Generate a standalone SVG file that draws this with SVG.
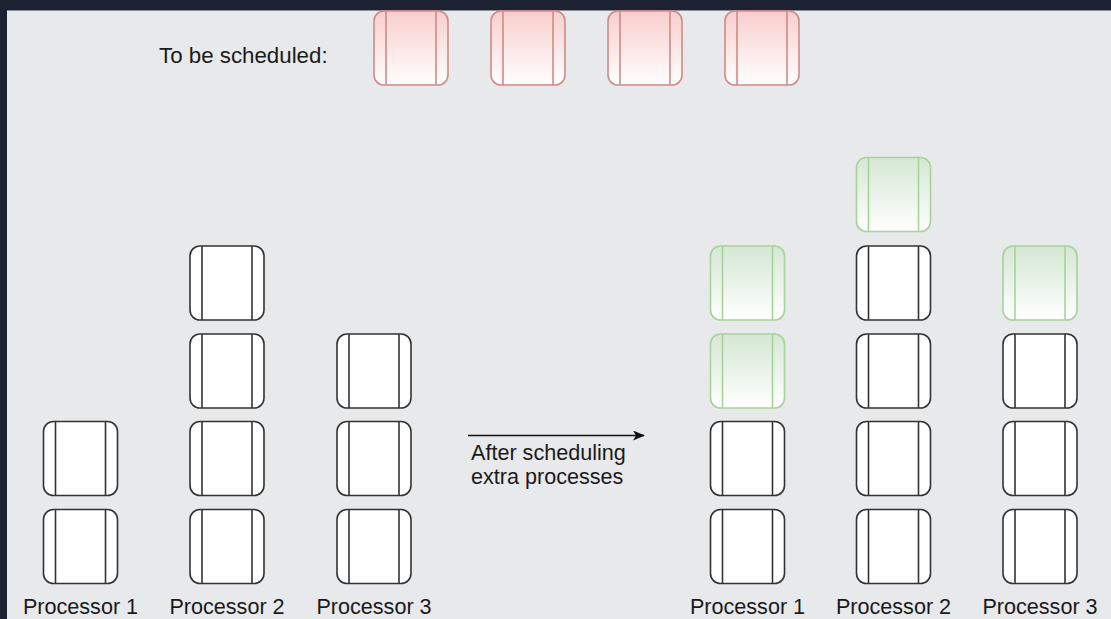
<svg xmlns="http://www.w3.org/2000/svg" xmlns:xlink="http://www.w3.org/1999/xlink" width="1111" height="619" viewBox="0 0 1111 619">
<defs>
<linearGradient id="gRed" x1="0" y1="0" x2="0" y2="1"><stop offset="0" stop-color="#f8cecc"/><stop offset="1" stop-color="#ffffff"/></linearGradient>
<linearGradient id="gGreen" x1="0" y1="0" x2="0" y2="1"><stop offset="0" stop-color="#d5e8d4"/><stop offset="1" stop-color="#ffffff"/></linearGradient>
<marker id="arr" viewBox="0 0 12 10" refX="11" refY="5" markerWidth="12" markerHeight="10" markerUnits="userSpaceOnUse" orient="auto"><path d="M0,0 L12,5 L0,10 L3,5 Z" fill="#111"/></marker>
<g id="proc"><rect x="0" y="0" width="74" height="74" rx="10" ry="10"/><line x1="12" y1="0" x2="12" y2="74"/><line x1="62" y1="0" x2="62" y2="74"/></g>
</defs>
<style>
.w{fill:#ffffff;stroke:#333333;stroke-width:1.6}
.r{fill:url(#gRed);stroke:#d08a88;stroke-width:1.6}
.g{fill:url(#gGreen);stroke:#a9d29b;stroke-width:1.6}
.lbl{font-family:"Liberation Sans",Arial,sans-serif;font-size:21.6px;fill:#1a1a1a}
</style>
<rect x="0" y="0" width="1111" height="619" fill="#1c2232"/>
<rect x="7" y="10" width="1104" height="609" fill="#e8e9eb"/>
<line x1="7" y1="10.5" x2="1111" y2="10.5" stroke="#8a8e98" stroke-width="1"/>

<text class="lbl" x="159" y="63" style="font-size:22.3px">To be scheduled:</text>
<g id="queue1" class="r"><use xlink:href="#proc" x="374" y="11"/></g>
<g id="queue2" class="r"><use xlink:href="#proc" x="491" y="11"/></g>
<g id="queue3" class="r"><use xlink:href="#proc" x="608" y="11"/></g>
<g id="queue4" class="r"><use xlink:href="#proc" x="725" y="11"/></g>

<!-- Before -->
<g id="b-p1-1" class="w"><use xlink:href="#proc" x="43.5" y="509.5"/></g>
<g id="b-p1-2" class="w"><use xlink:href="#proc" x="43.5" y="421.5"/></g>
<g id="b-p2-1" class="w"><use xlink:href="#proc" x="190" y="509.5"/></g>
<g id="b-p2-2" class="w"><use xlink:href="#proc" x="190" y="421.5"/></g>
<g id="b-p2-3" class="w"><use xlink:href="#proc" x="190" y="334"/></g>
<g id="b-p2-4" class="w"><use xlink:href="#proc" x="190" y="246"/></g>
<g id="b-p3-1" class="w"><use xlink:href="#proc" x="337" y="509.5"/></g>
<g id="b-p3-2" class="w"><use xlink:href="#proc" x="337" y="421.5"/></g>
<g id="b-p3-3" class="w"><use xlink:href="#proc" x="337" y="334"/></g>
<text class="lbl" x="80.5" y="614" text-anchor="middle">Processor 1</text>
<text class="lbl" x="227" y="614" text-anchor="middle">Processor 2</text>
<text class="lbl" x="374" y="614" text-anchor="middle">Processor 3</text>

<!-- After -->
<g id="a-p1-1" class="w"><use xlink:href="#proc" x="710.5" y="509.5"/></g>
<g id="a-p1-2" class="w"><use xlink:href="#proc" x="710.5" y="421.5"/></g>
<g id="a-p1-3" class="g"><use xlink:href="#proc" x="710.5" y="334"/></g>
<g id="a-p1-4" class="g"><use xlink:href="#proc" x="710.5" y="246"/></g>
<g id="a-p2-1" class="w"><use xlink:href="#proc" x="856.5" y="509.5"/></g>
<g id="a-p2-2" class="w"><use xlink:href="#proc" x="856.5" y="421.5"/></g>
<g id="a-p2-3" class="w"><use xlink:href="#proc" x="856.5" y="334"/></g>
<g id="a-p2-4" class="w"><use xlink:href="#proc" x="856.5" y="246"/></g>
<g id="a-p2-5" class="g"><use xlink:href="#proc" x="856.5" y="157.5"/></g>
<g id="a-p3-1" class="w"><use xlink:href="#proc" x="1003" y="509.5"/></g>
<g id="a-p3-2" class="w"><use xlink:href="#proc" x="1003" y="421.5"/></g>
<g id="a-p3-3" class="w"><use xlink:href="#proc" x="1003" y="334"/></g>
<g id="a-p3-4" class="g"><use xlink:href="#proc" x="1003" y="246"/></g>
<text class="lbl" x="747.5" y="614" text-anchor="middle">Processor 1</text>
<text class="lbl" x="893.5" y="614" text-anchor="middle">Processor 2</text>
<text class="lbl" x="1040" y="614" text-anchor="middle">Processor 3</text>

<g id="connectors">
<line x1="468" y1="435.5" x2="644" y2="435.5" stroke="#111" stroke-width="1.6" marker-end="url(#arr)"/>
</g>
<text class="lbl" x="471" y="460">After scheduling</text>
<text class="lbl" x="471" y="484">extra processes</text>
</svg>
